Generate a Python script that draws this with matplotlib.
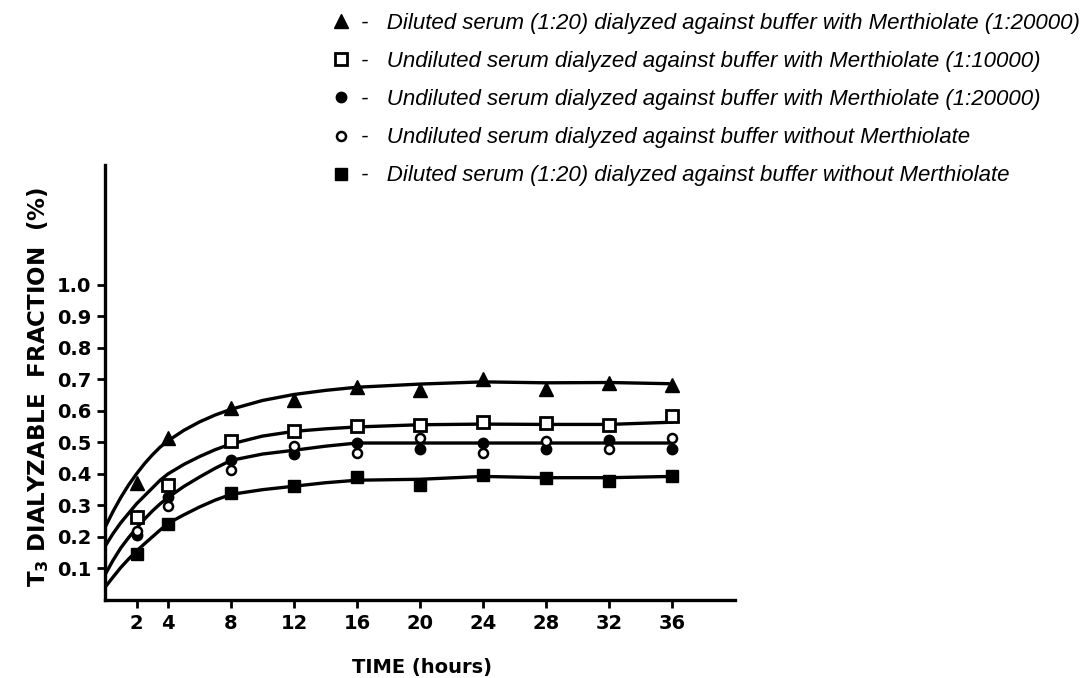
#T3 dialyzable fraction vs time for five dialysis conditions
#points are measurements, the lines are the hand drawn curves through them

import matplotlib.pyplot as plt

plt.rcParams['font.family'] = ['DejaVu Sans']

hours = [2, 4, 8, 12, 16, 20, 24, 28, 32, 36]

#measured points
diluted_merth_20000 = [0.37, 0.513, 0.608, 0.633, 0.675, 0.665, 0.70, 0.67, 0.689, 0.683]
undiluted_merth_10000 = [0.264, 0.366, 0.503, 0.535, 0.551, 0.556, 0.566, 0.561, 0.554, 0.585]
undiluted_merth_20000 = [0.206, 0.327, 0.445, 0.462, 0.499, 0.48, 0.499, 0.48, 0.509, 0.478]
undiluted_no_merth = [0.218, 0.298, 0.411, 0.49, 0.466, 0.515, 0.466, 0.506, 0.48, 0.515]
diluted_no_merth = [0.146, 0.24, 0.34, 0.361, 0.39, 0.364, 0.396, 0.387, 0.377, 0.392]

#points
curve_hours = [0, 0.5, 1, 1.5, 2, 2.5, 3, 3.5, 4, 5, 6, 7, 8, 10, 12, 14, 16, 20, 24, 28, 32, 36]
curve_triangle = [0.23, 0.28, 0.325, 0.365, 0.40, 0.432, 0.46, 0.485, 0.505, 0.538, 0.565, 0.587,
                  0.605, 0.633, 0.652, 0.665, 0.675, 0.685, 0.692, 0.689, 0.69, 0.686]
curve_square = [0.17, 0.21, 0.245, 0.275, 0.305, 0.33, 0.355, 0.38, 0.40, 0.43, 0.455, 0.477,
                0.495, 0.52, 0.535, 0.543, 0.549, 0.556, 0.558, 0.557, 0.557, 0.564]
curve_circle = [0.08, 0.125, 0.165, 0.198, 0.228, 0.256, 0.282, 0.305, 0.325, 0.36, 0.39, 0.418,
                0.443, 0.463, 0.475, 0.488, 0.498, 0.498, 0.498, 0.498, 0.498, 0.498]
curve_filled_sq = [0.04, 0.072, 0.103, 0.13, 0.155, 0.178, 0.20, 0.222, 0.243, 0.27, 0.295, 0.317,
                   0.335, 0.35, 0.361, 0.372, 0.38, 0.383, 0.392, 0.388, 0.388, 0.392]

labels = ['Diluted serum (1:20) dialyzed against buffer with Merthiolate (1:20000)',
          'Undiluted serum dialyzed against buffer with Merthiolate (1:10000)',
          'Undiluted serum dialyzed against buffer with Merthiolate (1:20000)',
          'Undiluted serum dialyzed against buffer without Merthiolate',
          'Diluted serum (1:20) dialyzed against buffer without Merthiolate']

xticks = [2, 4, 8, 12, 16, 20, 24, 28, 32, 36]
yticks = [0.1, 0.2, 0.3, 0.4, 0.5, 0.6, 0.7, 0.8, 0.9, 1.0]
ytick_labels = ['0.1', '0.2', '0.3', '0.4', '0.5', '0.6', '0.7', '0.8', '0.9', '1.0']

fig = plt.figure(figsize=(10.91, 6.78), dpi=100)
ax = fig.add_axes([105/1091, 1 - 600/678, 630/1091, 435/678])

#curves
for c in [curve_triangle, curve_square, curve_circle, curve_filled_sq]:
    ax.plot(curve_hours, c, color='black', lw=2.4, solid_capstyle='round', solid_joinstyle='round', zorder=2)

#points
h1, = ax.plot(hours, diluted_merth_20000, '^', color='black', ms=9.5, zorder=3)
h2, = ax.plot(hours, undiluted_merth_10000, 's', mfc='white', mec='black', mew=2, ms=8, zorder=3)
h3, = ax.plot(hours, undiluted_merth_20000, 'o', color='black', ms=7.5, zorder=3)
h4, = ax.plot(hours, undiluted_no_merth, 'o', mfc='white', mec='black', mew=1.8, ms=6.5, zorder=4)
h5, = ax.plot(hours, diluted_no_merth, 's', color='black', ms=8.5, zorder=3)

ax.set_xlim(0, 40)
ax.set_ylim(0, 1.38)
ax.set_xticks(xticks)
ax.set_yticks(yticks)
ax.set_yticklabels(ytick_labels)
for s in ['top', 'right']:
    ax.spines[s].set_visible(False)
for s in ['left', 'bottom']:
    ax.spines[s].set_linewidth(2.4)
ax.tick_params(direction='out', length=6, width=2, labelsize=14, pad=4)
for t in ax.get_xticklabels() + ax.get_yticklabels():
    t.set_fontweight('bold')

fig.text(422/1091, 1 - 668/678, 'TIME (hours)', ha='center', va='center',
         fontsize=14, fontweight='bold')
fig.text(38/1091, 1 - 387/678, r'T$_\mathbf{3}$ DIALYZABLE  FRACTION  (%)', ha='center', va='center',
         rotation=90, fontsize=16.5, fontweight='bold')

fig.legend([h1, h2, h3, h4, h5], ['-   ' + l for l in labels],
           loc='upper left', bbox_to_anchor=(310/1091, 1 + 7/678),
           frameon=False, handlelength=1.0, handletextpad=0.4, labelspacing=0.77,
           prop={'style': 'italic', 'size': 16, 'family': 'Liberation Sans'})

fig.savefig('out.png', dpi=100)
